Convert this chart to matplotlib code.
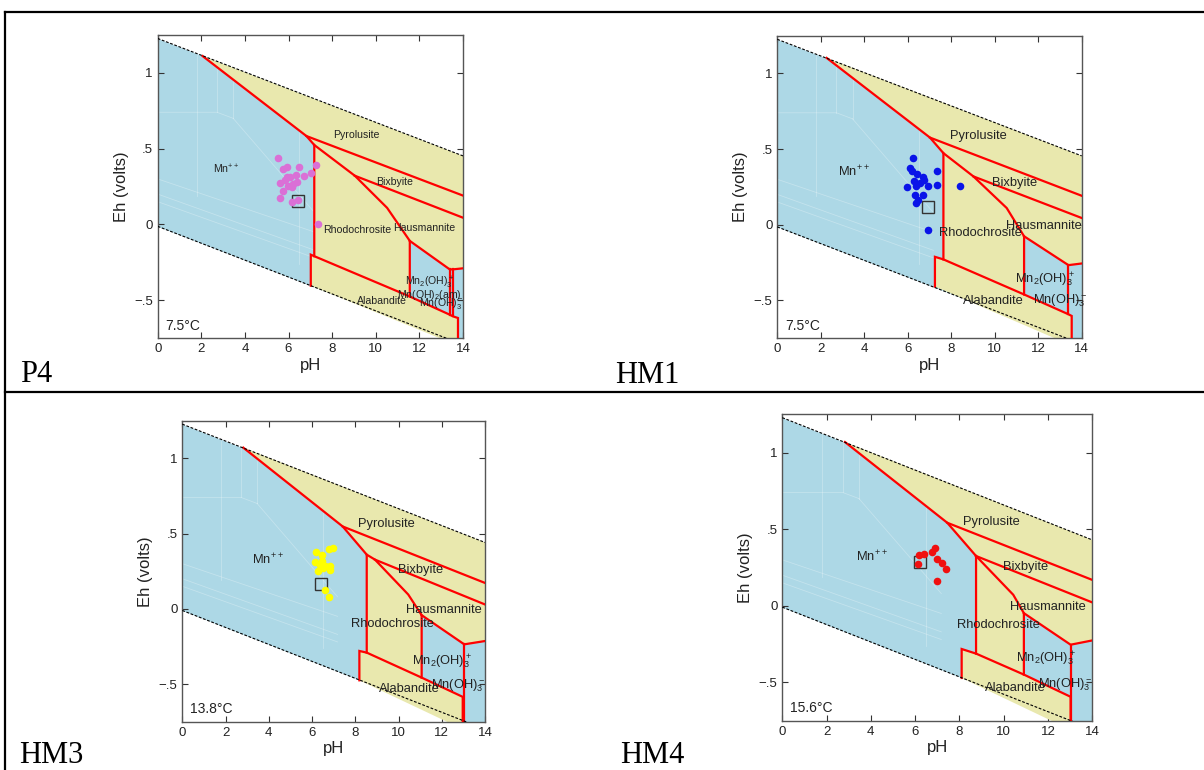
import matplotlib
matplotlib.use('Agg')
import matplotlib.pyplot as plt
from matplotlib.lines import Line2D

plt.rcParams['font.family'] = ['Liberation Sans', 'DejaVu Sans']
plt.rcParams['mathtext.default'] = 'regular'

# ---------------- data ----------------
PH_ENDS = [0, 14]
X_TICKS = [0, 2, 4, 6, 8, 10, 12, 14]
Y_TICKS = [-0.5, 0, 0.5, 1]
Y_TICK_LABELS = ['\u2212.5', '0', '.5', '1']
FIELD_NAMES = ['Pyrolusite', 'Bixbyite', 'Hausmannite', 'Rhodochrosite',
               'Mn$^{++}$', 'Alabandite', 'Mn$_2$(OH)$_3^+$', 'Mn(OH)$_3^-$']
PANEL_NAMES = ['P4', 'HM1', 'HM3', 'HM4']

# faint secondary boundaries inside the Mn++ field (pH list, Eh list)
GHOST = [
    ([1.8, 1.8], [1.127, 0.19]),
    ([2.72, 2.72], [1.076, 0.74]),
    ([0, 2.72, 3.46], [0.74, 0.74, 0.70]),
    ([3.46, 3.46], [1.035, 0.70]),
    ([3.46, 7.18], [0.70, 0.08]),
    ([6.5, 6.5], [0.87, -0.26]),
    ([0, 7.18], [0.30, -0.05]),
    ([0, 7.18], [0.20, -0.17]),
    ([0, 7.18], [0.15, -0.22]),
]

# ---- P4 (7.5 C)
P4_temp = '7.5\u00b0C'
P4_o2 = [1.227, 0.452]
P4_h2 = [-0.013, -0.794]
P4_oxide_ph = [2.06, 6.82, 7.18, 7.18, 11.56, 11.56, 13.39, 14.0, 14.0]
P4_oxide_eh = [1.111, 0.583, 0.524, -0.21, -0.476, -0.109, -0.297, -0.29, 0.452]
P4_alab_ph = [7.02, 7.02, 7.18, 11.56, 13.39, 13.54, 13.77, 13.77]
P4_alab_eh = [-0.405, -0.20, -0.21, -0.476, -0.596, -0.607, -0.618, -0.80]
P4_lines = [
    ([2.06, 6.82, 7.18, 7.18], [1.111, 0.583, 0.524, -0.21]),
    ([6.82, 14.0], [0.583, 0.19]),
    ([9.04, 14.0], [0.321, 0.044]),
    ([7.18, 9.04, 10.52, 11.56, 11.56], [0.524, 0.321, 0.109, -0.109, -0.476]),
    ([11.56, 13.39, 13.54, 14.0], [-0.109, -0.297, -0.297, -0.29]),
    ([13.39, 13.39], [-0.297, -0.596]),
    ([13.54, 13.54], [-0.297, -0.607]),
    (P4_alab_ph, P4_alab_eh),
]
P4_ph = [5.50, 5.73, 5.91, 6.49, 7.25, 7.05, 6.70, 6.34, 6.06, 5.86, 5.60,
         6.21, 6.37, 5.98, 5.76, 5.60, 6.18, 6.44, 7.36, 6.14, 5.91]
P4_eh = [0.439, 0.365, 0.376, 0.382, 0.393, 0.341, 0.321, 0.328, 0.314, 0.293, 0.271,
         0.266, 0.277, 0.255, 0.218, 0.172, 0.146, 0.162, 0.004, 0.245, 0.31]
P4_sq = [6.43, 0.157]

# ---- HM1 (7.5 C)
HM1_temp = '7.5\u00b0C'
HM1_o2 = [1.226, 0.455]
HM1_h2 = [-0.015, -0.79]
HM1_oxide_ph = [2.27, 7.02, 7.64, 7.64, 11.35, 11.35, 13.39, 14.0, 14.0]
HM1_oxide_eh = [1.103, 0.576, 0.473, -0.23, -0.462, -0.077, -0.268, -0.257, 0.455]
HM1_alab_ph = [7.25, 7.25, 7.64, 11.35, 13.39, 13.54, 13.54]
HM1_alab_eh = [-0.41, -0.213, -0.23, -0.462, -0.593, -0.604, -0.80]
HM1_lines = [
    ([2.27, 7.02, 7.64, 7.64], [1.103, 0.576, 0.473, -0.23]),
    ([7.02, 14.0], [0.576, 0.191]),
    ([9.02, 14.0], [0.319, 0.044]),
    ([7.64, 9.02, 10.55, 11.35, 11.35], [0.473, 0.319, 0.110, -0.077, -0.462]),
    ([11.35, 13.39, 14.0], [-0.077, -0.268, -0.257]),
    ([13.39, 13.39], [-0.268, -0.593]),
    (HM1_alab_ph, HM1_alab_eh),
]
HM1_ph = [6.26, 6.10, 6.20, 6.44, 6.69, 6.29, 6.56, 5.98, 6.38, 6.95,
          7.33, 7.33, 6.33, 6.69, 6.49, 6.38, 8.40, 6.93, 6.75]
HM1_eh = [0.444, 0.378, 0.352, 0.336, 0.314, 0.286, 0.275, 0.246, 0.253, 0.253,
          0.356, 0.264, 0.198, 0.198, 0.165, 0.143, 0.253, -0.037, 0.297]
HM1_sq = [6.93, 0.116]

# ---- HM3 (13.8 C)
HM3_temp = '13.8\u00b0C'
HM3_o2 = [1.227, 0.441]
HM3_h2 = [-0.011, -0.80]
HM3_oxide_ph = [2.82, 7.42, 8.53, 8.53, 11.07, 11.07, 13.04, 14.0, 14.0]
HM3_oxide_eh = [1.071, 0.547, 0.360, -0.291, -0.457, -0.042, -0.236, -0.214, 0.441]
HM3_alab_ph = [8.19, 8.19, 8.53, 11.07, 12.97, 12.97]
HM3_alab_eh = [-0.475, -0.280, -0.291, -0.457, -0.585, -0.80]
HM3_lines = [
    ([2.82, 7.42, 8.53, 8.53], [1.071, 0.547, 0.360, -0.291]),
    ([7.42, 14.0], [0.547, 0.172]),
    ([8.91, 14.0], [0.327, 0.029]),
    ([8.53, 8.91, 10.45, 11.07, 11.07], [0.360, 0.327, 0.095, -0.042, -0.457]),
    ([11.07, 13.04, 14.0], [-0.042, -0.236, -0.214]),
    ([13.04, 13.04], [-0.236, -0.80]),
    (HM3_alab_ph, HM3_alab_eh),
]
HM3_ph = [6.17, 6.44, 6.80, 6.95, 6.14, 6.37, 6.60, 6.83, 6.52, 6.29, 6.83, 6.60, 6.77, 6.44]
HM3_eh = [0.375, 0.355, 0.400, 0.404, 0.309, 0.294, 0.287, 0.283, 0.272, 0.249, 0.260,
          0.128, 0.079, 0.316]
HM3_sq = [6.40, 0.166]

# ---- HM4 (15.6 C)
HM4_temp = '15.6\u00b0C'
HM4_o2 = [1.228, 0.430]
HM4_h2 = [-0.009, -0.805]
HM4_oxide_ph = [2.83, 7.45, 8.75, 8.75, 10.91, 10.91, 13.02, 14.0, 14.0]
HM4_oxide_eh = [1.069, 0.542, 0.325, -0.312, -0.449, -0.048, -0.254, -0.226, 0.430]
HM4_alab_ph = [8.10, 8.10, 8.75, 10.91, 13.02, 13.02]
HM4_alab_eh = [-0.471, -0.282, -0.312, -0.449, -0.594, -0.81]
HM4_lines = [
    ([2.83, 7.45, 8.75, 8.75], [1.069, 0.542, 0.325, -0.312]),
    ([7.45, 14.0], [0.542, 0.169]),
    ([8.75, 14.0], [0.325, 0.022]),
    ([8.75, 10.43, 10.91, 10.91], [0.325, 0.072, -0.048, -0.449]),
    ([10.91, 13.02, 14.0], [-0.048, -0.254, -0.226]),
    ([13.02, 13.02], [-0.254, -0.81]),
    (HM4_alab_ph, HM4_alab_eh),
]
HM4_ph = [6.11, 6.19, 6.40, 6.77, 6.89, 7.00, 7.20, 7.39, 7.00]
HM4_eh = [0.273, 0.332, 0.338, 0.354, 0.375, 0.304, 0.278, 0.241, 0.163]
HM4_sq = [6.22, 0.284]

# ---------------- styling / layout ----------------
BLUE = '#ADD8E6'
YELLOW = '#E9E8AE'
RED = '#FF0000'

W, H = 1204, 770
fig = plt.figure(figsize=(W / 100, H / 100), dpi=100)


def fx(px):
    return px / W


def fy(py):
    return 1 - py / H


panels = [
    dict(rect=[157.7, 35, 463, 338], o2=P4_o2, h2=P4_h2,
         ox=(P4_oxide_ph, P4_oxide_eh), al=(P4_alab_ph, P4_alab_eh), lines=P4_lines,
         ph=P4_ph, eh=P4_eh, sq=P4_sq, c='#DA70D6', temp=P4_temp, fs=7.6,
         pos=[(9.11, 0.587), (10.87, 0.277), (12.24, -0.022), (9.14, -0.035),
              (3.16, 0.36), (10.26, -0.504), (12.47, -0.389), (13.0, -0.52)],
         extra=('Mn(OH)$_2$(am)', 12.47, -0.465)),
    dict(rect=[777.3, 35.7, 1081.7, 338], o2=HM1_o2, h2=HM1_h2,
         ox=(HM1_oxide_ph, HM1_oxide_eh), al=(HM1_alab_ph, HM1_alab_eh), lines=HM1_lines,
         ph=HM1_ph, eh=HM1_eh, sq=HM1_sq, c='#0A14E8', temp=HM1_temp, fs=9.3,
         pos=[(9.25, 0.587), (10.90, 0.275), (12.24, -0.011), (9.33, -0.055),
              (3.50, 0.352), (9.94, -0.505), (12.32, -0.363), (13.0, -0.505)],
         extra=None),
    dict(rect=[182.3, 420.7, 485, 721.7], o2=HM3_o2, h2=HM3_h2,
         ox=(HM3_oxide_ph, HM3_oxide_eh), al=(HM3_alab_ph, HM3_alab_eh), lines=HM3_lines,
         ph=HM3_ph, eh=HM3_eh, sq=HM3_sq, c='#FFFF00', temp=HM3_temp, fs=9.3,
         pos=[(9.45, 0.563), (11.04, 0.256), (12.10, -0.009), (9.71, -0.104),
              (3.98, 0.327), (10.50, -0.530), (12.0, -0.353), (12.77, -0.512)],
         extra=None),
    dict(rect=[782.3, 414.3, 1092.3, 720.7], o2=HM4_o2, h2=HM4_h2,
         ox=(HM4_oxide_ph, HM4_oxide_eh), al=(HM4_alab_ph, HM4_alab_eh), lines=HM4_lines,
         ph=HM4_ph, eh=HM4_eh, sq=HM4_sq, c='#F01010', temp=HM4_temp, fs=9.3,
         pos=[(9.45, 0.549), (11.0, 0.252), (11.98, -0.011), (9.75, -0.128),
              (4.03, 0.321), (10.51, -0.536), (11.91, -0.347), (12.77, -0.514)],
         extra=None),
]

for p in panels:
    l, t, r, b = p['rect']
    ax = fig.add_axes([fx(l), fy(b), fx(r) - fx(l), (b - t) / H])
    ax.set_xlim(0, 14)
    ax.set_ylim(-0.75, 1.25)
    # water stability field
    ax.fill_between(PH_ENDS, p['h2'], p['o2'], color=BLUE, lw=0, zorder=1)
    for gx, gy in GHOST:
        ax.plot(gx, gy, color='white', lw=0.6, alpha=0.28, zorder=1.5)
    ax.fill(p['ox'][0], p['ox'][1], color=YELLOW, lw=0, zorder=2)
    ax.fill(p['al'][0], p['al'][1], color=YELLOW, lw=0, zorder=2)
    for lx, ly in p['lines']:
        ax.plot(lx, ly, color=RED, lw=1.6, solid_joinstyle='miter', zorder=3)
    ax.plot(PH_ENDS, p['o2'], color='black', lw=0.8, ls=(0, (2.5, 1.5)), zorder=4)
    ax.plot(PH_ENDS, p['h2'], color='black', lw=0.8, ls=(0, (2.5, 1.5)), zorder=4)
    ax.plot([p['sq'][0]], [p['sq'][1]], marker='s', ms=8.5, mfc='none', mec='#333333',
            mew=1.0, ls='none', zorder=5)
    ax.scatter(p['ph'], p['eh'], s=30, color=p['c'], lw=0, zorder=6)
    for name, (tx, ty) in zip(FIELD_NAMES, p['pos']):
        ax.text(tx, ty, name, fontsize=p['fs'], ha='center', va='center',
                color='#222222', zorder=7)
    if p['extra'] is not None:
        ax.text(p['extra'][1], p['extra'][2], p['extra'][0], fontsize=p['fs'],
                ha='center', va='center', color='#222222', zorder=7)
    ax.text(0.35, -0.668, p['temp'], fontsize=10, ha='left', va='center',
            color='#222222', zorder=7)
    ax.set_xticks(X_TICKS)
    ax.set_yticks(Y_TICKS)
    ax.set_yticklabels(Y_TICK_LABELS)
    ax.tick_params(direction='in', top=True, right=True, length=4, width=0.8,
                   labelsize=9.5, colors='#333333', labelcolor='#222222')
    for s in ax.spines.values():
        s.set_color('#555555')
        s.set_linewidth(1.0)
    ax.set_xlabel('pH', fontsize=12, color='#222222', labelpad=2)
    ax.set_ylabel('Eh (volts)', fontsize=12, color='#222222')

# table rules
fig.add_artist(Line2D([fx(5), fx(5)], [fy(12), 0], transform=fig.transFigure,
                      color='black', lw=1.6))
fig.add_artist(Line2D([fx(5), 1], [fy(12), fy(12)], transform=fig.transFigure,
                      color='black', lw=1.6))
fig.add_artist(Line2D([fx(5), 1], [fy(391.7), fy(391.7)], transform=fig.transFigure,
                      color='black', lw=1.6))

label_pos = [(20, 382.5), (615, 383), (19, 763), (620, 763)]
for name, (lx, ly) in zip(PANEL_NAMES, label_pos):
    fig.text(fx(lx), fy(ly), name, fontsize=22, family='Liberation Serif',
             ha='left', va='baseline', color='black')

fig.savefig('out.png', dpi=100)
